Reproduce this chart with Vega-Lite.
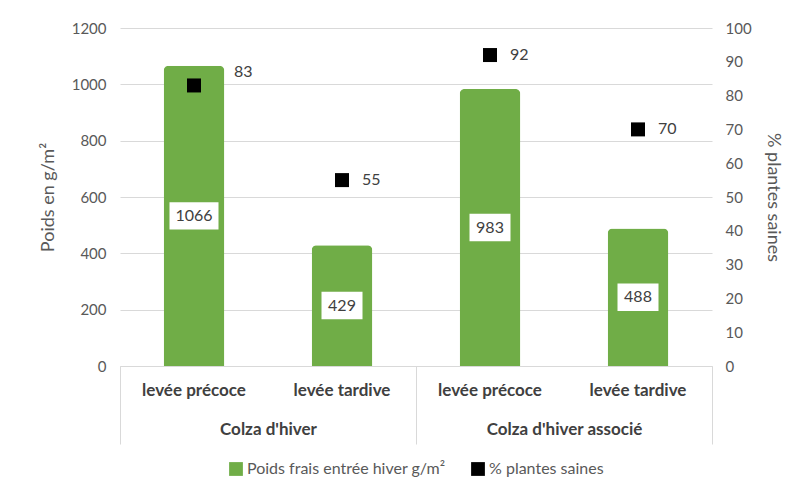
{
  "$schema": "https://vega.github.io/schema/vega-lite/v6.json",
  "width": 592,
  "height": 338,
  "padding": {"left": 39, "top": 21, "right": 5, "bottom": 5},
  "background": "white",
  "config": {
    "font": "Lato",
    "view": {"stroke": null},
    "axis": {"labelFont": "Lato", "titleFont": "Lato", "labelColor": "#595959", "titleColor": "#595959", "titleFontWeight": "normal"},
    "legend": {"labelFont": "Lato", "layout": {"bottom": {"anchor": "middle"}}}
  },
  "data": {
    "values": [
      {"group": "Colza d'hiver", "cat": "Colza d'hiver|levée précoce", "poids": 1066, "pct": 83},
      {"group": "Colza d'hiver", "cat": "Colza d'hiver|levée tardive", "poids": 429, "pct": 55},
      {"group": "Colza d'hiver associé", "cat": "Colza d'hiver associé|levée précoce", "poids": 983, "pct": 92},
      {"group": "Colza d'hiver associé", "cat": "Colza d'hiver associé|levée tardive", "poids": 488, "pct": 70}
    ]
  },
  "transform": [{"calculate": "datum.poids / 2", "as": "half"}],
  "layer": [
    {
      "mark": {"type": "bar", "width": {"band": 0.41}, "cornerRadiusTopLeft": 5, "cornerRadiusTopRight": 5},
      "encoding": {
        "x": {"field": "cat", "type": "nominal", "sort": null, "scale": {"type": "band", "paddingInner": 0, "paddingOuter": 0, "domain": ["Colza d'hiver|levée précoce", "Colza d'hiver|levée tardive", "Colza d'hiver associé|levée précoce", "Colza d'hiver associé|levée tardive"]},
          "axis": {"orient": "bottom", "title": null, "labelExpr": "split(datum.label, '|')[1]", "labelAngle": 0, "labelFontWeight": "bold", "labelFontSize": 17, "labelColor": "#404040", "labelPadding": 16, "ticks": false, "domainColor": "#d9d9d9", "grid": false}},
        "y": {"field": "poids", "type": "quantitative", "scale": {"domain": [0, 1200]},
          "axis": {"title": "Poids en g/m²", "titleFontSize": 18, "format": "d", "values": [0, 200, 400, 600, 800, 1000, 1200], "labelFontSize": 15, "labelPadding": 14, "ticks": false, "domain": false, "gridColor": "#d9d9d9", "titlePadding": 14}},
        "color": {"datum": "Poids frais entrée hiver g/m²", "type": "nominal",
          "scale": {"domain": ["Poids frais entrée hiver g/m²", "% plantes saines"], "range": ["#70AD47", "#000000"]},
          "legend": {"orient": "bottom", "direction": "horizontal", "title": null, "symbolType": "square", "symbolSize": 190, "labelFontSize": 16, "labelColor": "#595959", "labelLimit": 400, "labelOffset": 3, "columnPadding": 24, "symbolStrokeWidth": 0, "offset": 16}}
      }
    },
    {
      "mark": {"type": "point", "filled": true, "color": "white", "opacity": 1, "strokeWidth": 0},
      "encoding": {
        "x": {"field": "cat", "type": "nominal", "sort": null, "scale": {"type": "band", "paddingInner": 0, "paddingOuter": 0, "domain": ["Colza d'hiver|levée précoce", "Colza d'hiver|levée tardive", "Colza d'hiver associé|levée précoce", "Colza d'hiver associé|levée tardive"]}, "axis": null},
        "y": {"field": "half", "type": "quantitative", "scale": {"domain": [0, 1200]}, "axis": null},
        "shape": {"condition": {"test": "datum.poids >= 1000", "value": "M-1,-0.56L1,-0.56L1,0.56L-1,0.56Z"}, "value": "M-1,-0.67L1,-0.67L1,0.67L-1,0.67Z"},
        "size": {"condition": {"test": "datum.poids >= 1000", "value": 2401}, "value": 1681}
      }
    },
    {
      "mark": {"type": "text", "fontSize": 16, "color": "#404040", "font": "Lato"},
      "encoding": {
        "x": {"field": "cat", "type": "nominal", "sort": null, "scale": {"type": "band", "paddingInner": 0, "paddingOuter": 0, "domain": ["Colza d'hiver|levée précoce", "Colza d'hiver|levée tardive", "Colza d'hiver associé|levée précoce", "Colza d'hiver associé|levée tardive"]}, "axis": null},
        "y": {"field": "half", "type": "quantitative", "scale": {"domain": [0, 1200]}, "axis": null},
        "text": {"field": "poids", "type": "quantitative"}
      }
    },
    {
      "mark": {"type": "point", "shape": "square", "filled": true, "size": 196, "opacity": 1},
      "encoding": {
        "x": {"field": "cat", "type": "nominal", "sort": null, "scale": {"type": "band", "paddingInner": 0, "paddingOuter": 0, "domain": ["Colza d'hiver|levée précoce", "Colza d'hiver|levée tardive", "Colza d'hiver associé|levée précoce", "Colza d'hiver associé|levée tardive"]}, "axis": null},
        "y": {"field": "pct", "type": "quantitative", "scale": {"domain": [0, 100]},
          "axis": {"orient": "right", "title": "% plantes saines", "titleFontSize": 18, "values": [0, 10, 20, 30, 40, 50, 60, 70, 80, 90, 100], "labelFontSize": 15, "labelPadding": 13, "ticks": false, "domain": false, "grid": false, "titlePadding": 12}},
        "color": {"datum": "% plantes saines", "type": "nominal"}
      }
    },
    {
      "transform": [{"filter": "datum.pct != 83"}],
      "mark": {"type": "text", "fontSize": 16, "color": "#404040", "align": "left", "dx": 20, "font": "Lato"},
      "encoding": {
        "x": {"field": "cat", "type": "nominal", "sort": null, "scale": {"type": "band", "paddingInner": 0, "paddingOuter": 0, "domain": ["Colza d'hiver|levée précoce", "Colza d'hiver|levée tardive", "Colza d'hiver associé|levée précoce", "Colza d'hiver associé|levée tardive"]}, "axis": null},
        "y": {"field": "pct", "type": "quantitative", "scale": {"domain": [0, 100]}, "axis": null},
        "text": {"field": "pct", "type": "quantitative"}
      }
    },
    {
      "transform": [{"filter": "datum.pct == 83"}],
      "mark": {"type": "text", "fontSize": 16, "color": "#404040", "align": "left", "dx": 40, "dy": -13, "font": "Lato"},
      "encoding": {
        "x": {"field": "cat", "type": "nominal", "sort": null, "scale": {"type": "band", "paddingInner": 0, "paddingOuter": 0, "domain": ["Colza d'hiver|levée précoce", "Colza d'hiver|levée tardive", "Colza d'hiver associé|levée précoce", "Colza d'hiver associé|levée tardive"]}, "axis": null},
        "y": {"field": "pct", "type": "quantitative", "scale": {"domain": [0, 100]}, "axis": null},
        "text": {"field": "pct", "type": "quantitative"}
      }
    },
    {
      "mark": {"type": "bar", "opacity": 0},
      "encoding": {
        "x": {"field": "group", "type": "nominal", "sort": null, "scale": {"type": "band", "paddingInner": 0, "paddingOuter": 0, "domain": ["Colza d'hiver", "Colza d'hiver associé"]},
          "axis": {"orient": "bottom", "title": null, "labelAngle": 0, "tickBand": "extent", "tickSize": 78, "tickColor": "#d9d9d9", "domain": false, "grid": false, "labelFontWeight": "bold", "labelFontSize": 17, "labelColor": "#404040", "labelPadding": -23}}
      }
    }
  ],
  "resolve": {"scale": {"x": "independent", "y": "independent"}}
}
